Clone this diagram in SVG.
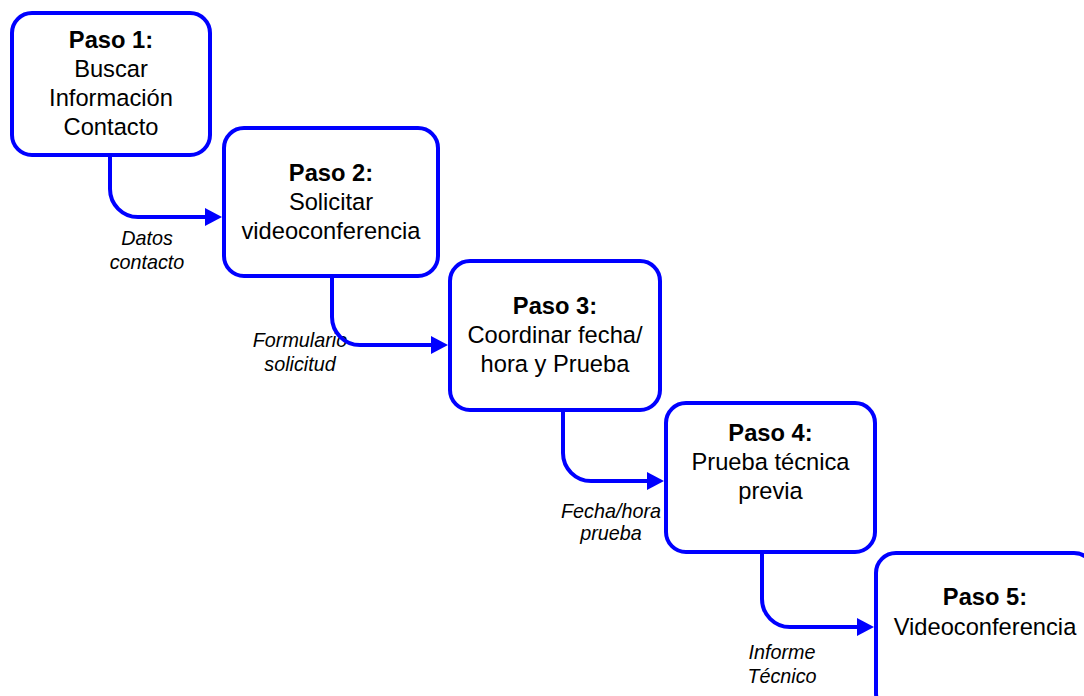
<svg xmlns="http://www.w3.org/2000/svg" width="1084" height="696" viewBox="0 0 1084 696">
  <style>
    .box { fill: #ffffff; stroke: #0000ff; stroke-width: 4; }
    .t { font-family: "Liberation Sans", Arial, sans-serif; font-size: 23.7px; fill: #000000; text-anchor: middle; }
    .b { font-weight: bold; }
    .lbl { font-family: "Liberation Sans", Arial, sans-serif; font-size: 19.75px; font-style: italic; fill: #000000; text-anchor: middle; }
    .conn { fill: none; stroke: #0000ff; stroke-width: 4; }
  </style>
  <defs>
    <marker id="arrow" markerUnits="userSpaceOnUse" markerWidth="18" markerHeight="20" refX="7" refY="9" orient="auto">
      <path d="M0,0 L17,9 L0,18 Z" fill="#0000ff"/>
    </marker>
  </defs>
  <rect width="1084" height="696" fill="#ffffff"/>

  <g id="labels">
    <text class="lbl" x="147" y="245">Datos</text>
    <text class="lbl" x="147" y="269">contacto</text>
    <text class="lbl" x="300" y="347">Formulario</text>
    <text class="lbl" x="300" y="371">solicitud</text>
    <text class="lbl" x="611" y="518">Fecha/hora</text>
    <text class="lbl" x="611" y="540">prueba</text>
    <text class="lbl" x="782" y="659">Informe</text>
    <text class="lbl" x="782" y="683">Técnico</text>
  </g>

  <g id="connectors">
    <path class="conn" d="M110,155 V189 A28,28 0 0 0 138,217 H212" marker-end="url(#arrow)"/>
    <path class="conn" d="M332,276 V317 A28,28 0 0 0 360,345 H438" marker-end="url(#arrow)"/>
    <path class="conn" d="M563,410 V453 A28,28 0 0 0 591,481 H654" marker-end="url(#arrow)"/>
    <path class="conn" d="M762,552 V599 A28,28 0 0 0 790,627 H864" marker-end="url(#arrow)"/>
  </g>

  <g id="paso1">
    <rect class="box" x="12" y="13" width="198" height="142" rx="20" ry="20"/>
    <text class="t b" x="111" y="48">Paso 1:</text>
    <text class="t" x="111" y="77">Buscar</text>
    <text class="t" x="111" y="106">Información</text>
    <text class="t" x="111" y="134.5">Contacto</text>
  </g>

  <g id="paso2">
    <rect class="box" x="224" y="128" width="214" height="148" rx="20" ry="20"/>
    <text class="t b" x="331" y="181">Paso 2:</text>
    <text class="t" x="331" y="210">Solicitar</text>
    <text class="t" x="331" y="238.5">videoconferencia</text>
  </g>

  <g id="paso3">
    <rect class="box" x="450" y="261" width="210" height="149" rx="20" ry="20"/>
    <text class="t b" x="555" y="313.5">Paso 3:</text>
    <text class="t" x="555" y="342.5">Coordinar fecha/</text>
    <text class="t" x="555" y="371.5">hora y Prueba</text>
  </g>

  <g id="paso4">
    <rect class="box" x="666" y="403" width="209" height="149" rx="20" ry="20"/>
    <text class="t b" x="770.5" y="441">Paso 4:</text>
    <text class="t" x="770.5" y="470">Prueba técnica</text>
    <text class="t" x="770.5" y="498.5">previa</text>
  </g>

  <g id="paso5">
    <rect class="box" x="876" y="553" width="218" height="160" rx="20" ry="20"/>
    <text class="t b" x="985" y="605">Paso 5:</text>
    <text class="t" x="985" y="635">Videoconferencia</text>
  </g>
</svg>
